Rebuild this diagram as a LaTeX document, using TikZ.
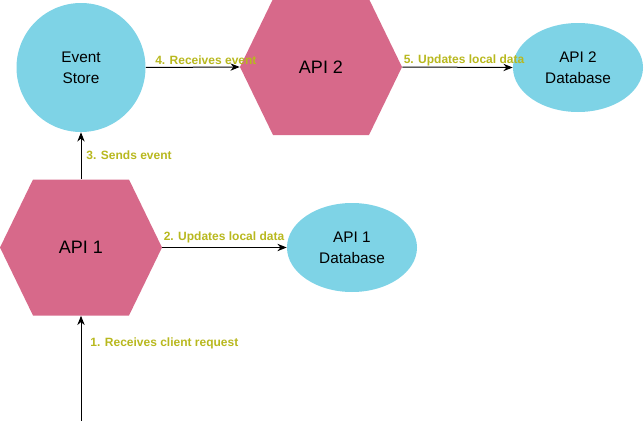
\documentclass[tikz,border=0pt]{standalone}
\usepackage{fontspec}
\setmainfont{Liberation Sans}
\usetikzlibrary{arrows.meta, shapes.geometric}
\definecolor{apipink}{RGB}{215,105,138}
\definecolor{storecyan}{RGB}{126,211,230}
\definecolor{steplabel}{RGB}{184,184,30}

\begin{document}
\begin{tikzpicture}[
        x=0.75pt, y=-0.75pt,
        >={Stealth[length=7pt, width=5.5pt]},
        hexbox/.style={minimum width=121.5pt, minimum height=102pt, inner sep=0pt, font=\fontsize{13.5}{16}\selectfont,
            path picture={\fill[apipink] (path picture bounding box.west)
                -- ([xshift=24.75pt]path picture bounding box.north west)
                -- ([xshift=-24.75pt]path picture bounding box.north east)
                -- (path picture bounding box.east)
                -- ([xshift=-24.75pt]path picture bounding box.south east)
                -- ([xshift=24.75pt]path picture bounding box.south west) -- cycle;}},
        storebox/.style={circle, fill=storecyan, minimum size=96.75pt, inner sep=0pt, align=center, font=\fontsize{11.5}{15.75}\selectfont},
        dbbox/.style={ellipse, fill=storecyan, minimum width=97.5pt, minimum height=66.75pt, inner sep=0pt, align=center, font=\fontsize{11.5}{15.75}\selectfont},
        lbl/.style={font=\fontsize{9}{11}\selectfont\bfseries, text=steplabel, inner sep=0pt},
        flow/.style={->, line width=0.75pt}
    ]
    \useasboundingbox (0,0) rectangle (644,421);
    \node[storebox] (estore) at (81,67.5) {Event\\Store};
    \node[hexbox] (api2) at (321,67) {API 2};
    \node[dbbox] (db2) at (578,67.5) {API 2\\Database};
    \node[hexbox] (api1) at (81,247.5) {API 1};
    \node[dbbox] (db1) at (352,247.5) {API 1\\Database};
    \coordinate (client) at (81,421);
    \draw[flow] (client) -- (api1.south) node[lbl, pos=.74, anchor=west, xshift=6.75pt] {1. Receives client request};
    \draw[flow] (api1.east) -- (db1.west) node[lbl, pos=0, anchor=base west, xshift=0.75pt, yshift=5.25pt] {2. Updates local data};
    \draw[flow] (api1.north) -- (estore.south) node[lbl, pos=.51, anchor=west, xshift=3.75pt] {3. Sends event};
    \draw[flow] (estore.east) -- (api2.west) node[lbl, pos=0, anchor=base west, xshift=6.75pt, yshift=2.25pt] {4. Receives event};
    \draw[flow] (api2.east) -- (db2.west) node[lbl, pos=0, anchor=base west, xshift=0.75pt, yshift=2.25pt] {5. Updates local data};
\end{tikzpicture}
\end{document}
